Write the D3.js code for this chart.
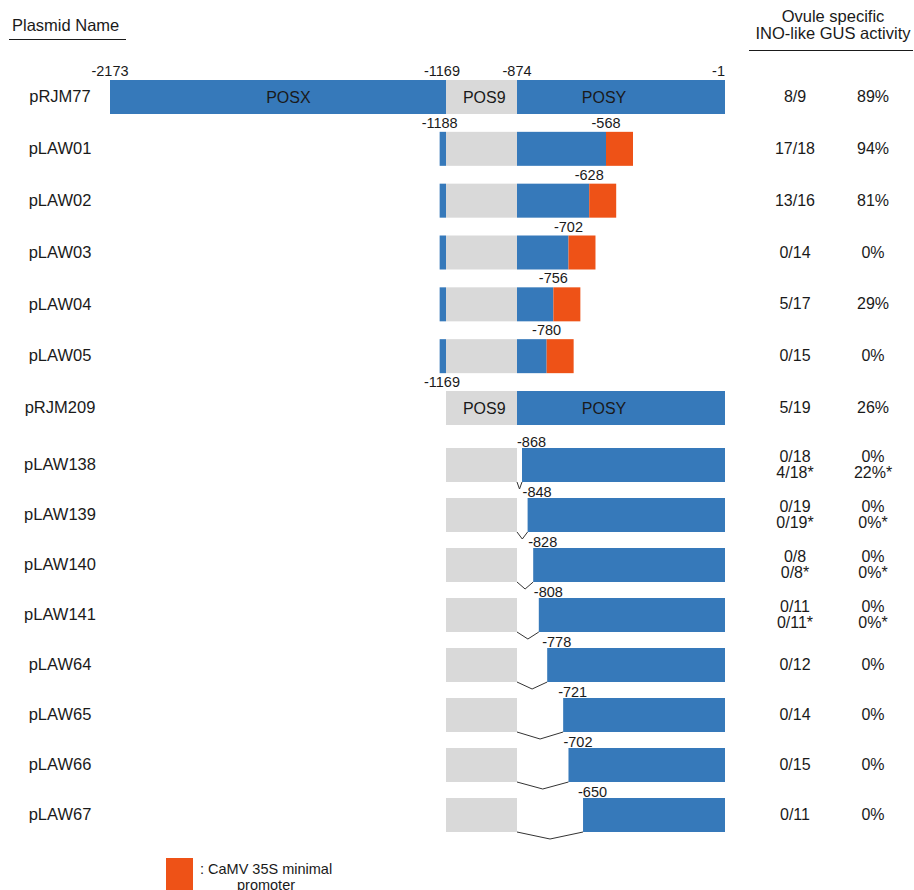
<!DOCTYPE html>
<html>
<head>
<meta charset="utf-8">
<script src="https://cdn.jsdelivr.net/npm/d3@7"></script>
<style>
  body { margin: 0; background: #fff; }
  text { font-family: "Liberation Sans", Arial, Helvetica, sans-serif; fill: #1a1a1a; }
</style>
</head>
<body>
<svg id="chart" width="914" height="890"></svg>
<script>
// Data
const plasmids = ["pRJM77", "pLAW01", "pLAW02", "pLAW03", "pLAW04", "pLAW05", "pRJM209",
  "pLAW138", "pLAW139", "pLAW140", "pLAW141", "pLAW64", "pLAW65", "pLAW66", "pLAW67"];

// promoter pieces carried by each plasmid, [5' end, 3' end]
const fragments = [
  [[-2173, -1]],
  [[-1188, -568]],
  [[-1188, -628]],
  [[-1188, -702]],
  [[-1188, -756]],
  [[-1188, -780]],
  [[-1169, -1]],
  [[-1169, -874], [-868, -1]],
  [[-1169, -874], [-848, -1]],
  [[-1169, -874], [-828, -1]],
  [[-1169, -874], [-808, -1]],
  [[-1169, -874], [-778, -1]],
  [[-1169, -874], [-721, -1]],
  [[-1169, -874], [-702, -1]],
  [[-1169, -874], [-650, -1]]
];

const minimalPromoter = [false, true, true, true, true, true, false,
  false, false, false, false, false, false, false, false];

const regionNames = ["POSX", "POS9", "POSY"];
const regionBounds = [[-2173, -1169], [-1169, -874], [-874, -1]];
const regionLabelAt = [-1640, -1010, -575];
const namedRows = [0, 6];

const positionLabels = [
  [-2173, -1169, -874, -1],
  [-1188, -568], [-628], [-702], [-756], [-780],
  [-1169],
  [-868], [-848], [-828], [-808], [-778], [-721], [-702], [-650]
];

const gusCounts = [["8/9"], ["17/18"], ["13/16"], ["0/14"], ["5/17"], ["0/15"], ["5/19"],
  ["0/18", "4/18*"], ["0/19", "0/19*"], ["0/8", "0/8*"], ["0/11", "0/11*"],
  ["0/12"], ["0/14"], ["0/15"], ["0/11"]];
const gusPercent = [["89%"], ["94%"], ["81%"], ["0%"], ["29%"], ["0%"], ["26%"],
  ["0%", "22%*"], ["0%", "0%*"], ["0%", "0%*"], ["0%", "0%*"],
  ["0%"], ["0%"], ["0%"], ["0%"]];

// Style
const BLUE = "#3679ba", GREY = "#d9d9d9", ORANGE = "#ee5217";
const barH = 34, promoterW = 27;

const svg = d3.select("#chart");

// schematic (not to scale) position axis
const x = d3.scaleLinear()
  .domain([-2173, -1169, -874, -868, -568, -1])
  .range([110, 446, 517, 522, 606, 725]);

const y = d3.scaleLinear()
  .domain([0, 6, 7, 14])
  .range([80, 391, 448, 798]);

const regionFill = d3.scaleOrdinal().domain(regionNames).range([BLUE, GREY, BLUE]);

// Headers
svg.append("text").attr("x", 12).attr("y", 31)
  .style("font-size", "16.5px").text("Plasmid Name");
svg.append("line").attr("x1", 9).attr("x2", 126).attr("y1", 39.5).attr("y2", 39.5)
  .attr("stroke", "#1a1a1a").attr("stroke-width", 1);

const hdr = svg.append("text").attr("text-anchor", "middle").style("font-size", "16.5px");
hdr.append("tspan").attr("x", 833).attr("y", 22).text("Ovule specific");
hdr.append("tspan").attr("x", 833).attr("y", 38.5).text("INO-like GUS activity");
svg.append("line").attr("x1", 749).attr("x2", 913).attr("y1", 50.5).attr("y2", 50.5)
  .attr("stroke", "#1a1a1a").attr("stroke-width", 1);

// Rows
const rows = svg.selectAll("g.row")
  .data(plasmids)
  .join("g")
  .attr("class", "row")
  .attr("transform", (d, i) => `translate(0,${y(i)})`);

rows.append("text")
  .attr("x", 60).attr("y", barH / 2).attr("dy", "0.32em")
  .attr("text-anchor", "middle")
  .style("font-size", "16.5px")
  .text(d => d);

rows.each(function (name, i) {
  const g = d3.select(this);
  const pieces = fragments[i];

  // coloured region segments
  pieces.forEach(([a, b]) => {
    regionBounds.forEach(([r0, r1], k) => {
      const lo = Math.max(a, r0), hi = Math.min(b, r1);
      if (hi <= lo) return;
      g.append("rect")
        .attr("x", x(lo)).attr("y", 0)
        .attr("width", x(hi) - x(lo)).attr("height", barH)
        .attr("fill", regionFill(regionNames[k]));
    });
  });

  // CaMV 35S minimal promoter
  if (minimalPromoter[i]) {
    const end = pieces[pieces.length - 1][1];
    g.append("rect")
      .attr("x", x(end)).attr("y", 0)
      .attr("width", promoterW).attr("height", barH)
      .attr("fill", ORANGE);
  }

  // deletion junctions
  for (let p = 1; p < pieces.length; p++) {
    const x0 = x(pieces[p - 1][1]), x1 = x(pieces[p][0]);
    g.append("path")
      .attr("d", d3.line()([[x0, barH], [(x0 + x1) / 2, barH + 7], [x1, barH]]))
      .attr("fill", "none").attr("stroke", "#333").attr("stroke-width", 1);
  }

  // region names
  if (namedRows.includes(i)) {
    regionNames.forEach((rn, k) => {
      const [r0, r1] = regionBounds[k];
      const inside = pieces.some(([a, b]) => a <= r0 && b >= r1);
      if (!inside) return;
      g.append("text")
        .attr("x", x(regionLabelAt[k])).attr("y", barH / 2).attr("dy", "0.35em")
        .attr("text-anchor", "middle")
        .style("font-size", "16px")
        .text(rn);
    });
  }

  // position labels
  const deletion = pieces.length > 1;
  positionLabels[i].forEach(v => {
    g.append("text")
      .attr("x", deletion ? x(v) - 5 : (v === -1169 ? x(v) - 4 : x(v)))
      .attr("y", deletion ? -1.5 : -4)
      .attr("text-anchor", deletion ? "start" : (v === -1 ? "end" : "middle"))
      .style("font-size", "14.5px")
      .text(v);
  });

  // GUS activity columns
  [[gusCounts[i], 795], [gusPercent[i], 873]].forEach(([lines, cx]) => {
    const t = g.append("text").attr("text-anchor", "middle").style("font-size", "16px");
    const y0 = lines.length === 1 ? barH / 2 + 5 : barH / 2 - 3.3;
    lines.forEach((s, j) => {
      t.append("tspan").attr("x", cx).attr("y", y0 + j * 16).text(s);
    });
  });
});

// Legend
svg.append("rect").attr("x", 166).attr("y", 858).attr("width", 27).attr("height", 34)
  .attr("fill", ORANGE);
svg.append("text").attr("x", 200).attr("y", 874).style("font-size", "14.5px")
  .text(": CaMV 35S minimal");
svg.append("text").attr("x", 237).attr("y", 890).style("font-size", "14.5px")
  .text("promoter");
</script>
</body>
</html>
